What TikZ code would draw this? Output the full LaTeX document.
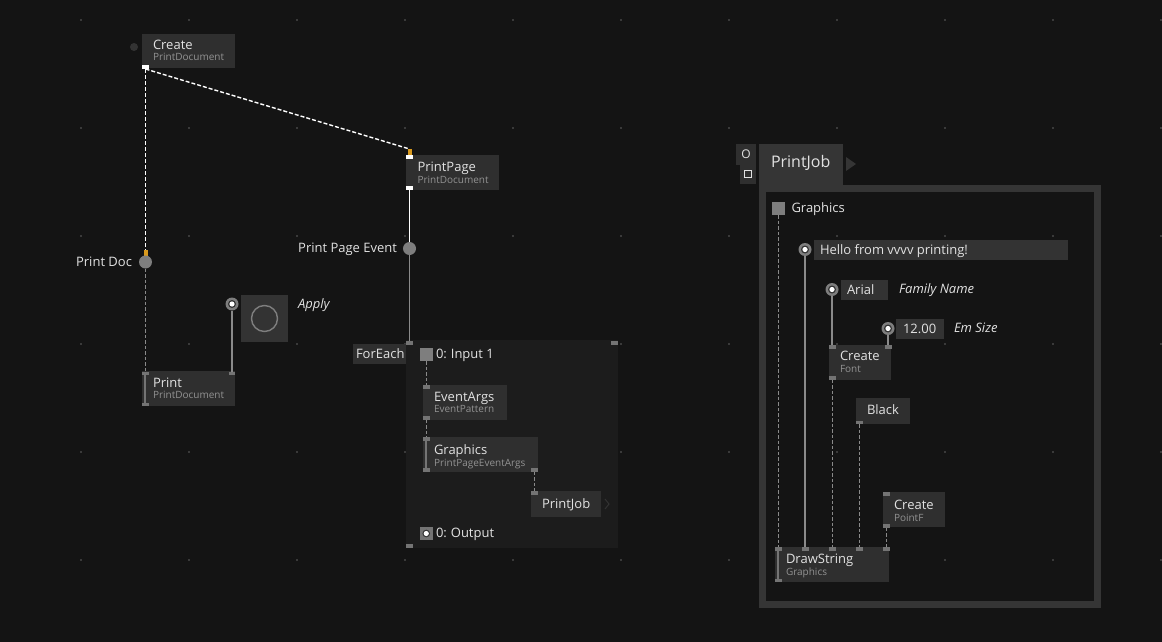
\documentclass[tikz,border=0pt]{standalone}
\usepackage{fontspec}
\setmainfont{Open Sans}
\definecolor{bg}{HTML}{141414}
\definecolor{nodefill}{HTML}{2F2F2F}
\definecolor{iofill}{HTML}{333333}
\definecolor{regfill}{HTML}{1C1C1C}
\definecolor{framec}{HTML}{353535}
\definecolor{txt}{HTML}{E2E2E2}
\definecolor{subtxt}{HTML}{929292}
\definecolor{pinc}{HTML}{7E7E7E}
\definecolor{smallpin}{HTML}{747474}
\definecolor{linec}{HTML}{8A8A8A}
\definecolor{orangec}{HTML}{D99A1E}
\definecolor{dotc}{HTML}{3A3A3A}
\begin{document}
\begin{tikzpicture}[x=1pt,y=-1pt,
  every node/.style={inner sep=0pt, outer sep=0pt},
  box/.style={fill=nodefill, anchor=north west, rectangle},
  iobox/.style={fill=iofill, anchor=north west, rectangle},
  pinw/.style={fill=white, anchor=north west, rectangle, minimum width=7pt, minimum height=4pt},
  ping/.style={fill=smallpin, anchor=north west, rectangle, minimum width=6.5pt, minimum height=3.5pt},
  pino/.style={fill=orangec, anchor=north west, rectangle, minimum width=4pt, minimum height=6pt},
  bigpin/.style={circle, fill=pinc, minimum size=13pt},
  iopin/.style={circle, fill=pinc, minimum size=13pt,
    path picture={\fill[iofill] (path picture bounding box.center) circle (4pt);
                  \fill[white] (path picture bounding box.center) circle (2.6pt);}},
  inpin/.style={fill=pinc, anchor=north west, rectangle, minimum width=12.5pt, minimum height=13pt},
  title/.style={anchor=base west, text=txt, font=\fontsize{13}{15}\selectfont},
  sub/.style={anchor=base west, text=subtxt, font=\fontsize{10}{12}\selectfont},
  lblit/.style={anchor=base west, text=txt, font=\fontsize{13}{15}\selectfont\itshape},
  wdash/.style={draw=white, line width=1.4pt, dash pattern=on 4pt off 2pt},
  wsolid/.style={draw=white, line width=1.7pt},
  gdash/.style={draw=linec, line width=1.2pt, dash pattern=on 3.5pt off 2pt},
  gsolid/.style={draw=linec, line width=1.5pt},
  nodebar/.style={draw=smallpin, line width=2pt}
]
% background and bounding box
\fill[bg] (0,0) rectangle (1162,642);
\useasboundingbox (0,0) rectangle (1162,642);
% grid dots
\foreach \gx in {81,189,297,405,513,621,729,837,945,1053,1161}
  \foreach \gy in {20,128,236,344,452,560}
    \fill[dotc] (\gx-0.8,\gy-0.8) rectangle (\gx+0.8,\gy+0.8);

% ---------- left part ----------
\node[circle, fill=iofill, minimum size=8pt] (createDot) at (134,47) {};
\node[box, minimum width=93pt, minimum height=34.5pt] (create) at (142,34) {};
\node[title] (createT) at (153,50) {Create};
\node[sub] (createS) at (153,61) {PrintDocument};
\node[pinw] (createOut) at (142,65) {};

\node[pino] (pdIn) at (143.5,250) {};
\node[bigpin] (pd) at (145.5,262) {};
\node[title, anchor=base east] (pdT) at (132,266) {Print Doc};

\node[box, minimum width=93pt, minimum height=35pt] (print) at (142,371) {};
\node[ping] (printIn1) at (142,371.5) {};
\node[ping] (printIn2) at (228.5,371.5) {};
\node[ping] (printOut) at (142,402.5) {};
\draw[nodebar] (printIn1.south) -- (printOut.north);
\node[title] (printT) at (153,387) {Print};
\node[sub] (printS) at (153,398) {PrintDocument};

\node[iopin] (applyPin) at (232,304) {};
\node[iobox, minimum width=47pt, minimum height=47pt] (applyBox) at (241,295) {};
\draw[draw=pinc, line width=1.4pt] (applyBox.center) circle (13pt);
\node[lblit] (applyT) at (298,308) {Apply};

\node[box, minimum width=93pt, minimum height=35pt] (pp) at (406,155) {};
\node[pinw] (ppIn) at (406,155) {};
\node[pino] (ppOrange) at (407.5,149) {};
\node[pinw] (ppOut) at (406,186) {};
\node[title] (ppT) at (417.5,171.5) {PrintPage};
\node[sub] (ppS) at (417.5,183) {PrintDocument};

\node[bigpin] (ppe) at (409.5,248.5) {};
\node[title, anchor=base east] (ppeT) at (397,252) {Print Page Event};

% connectors left
\draw[wdash] (createOut.south) -- (pdIn.north);
\draw[wdash] (createOut.south) -- (ppOrange.north);
\draw[gdash] (pd.south) -- (pd.south |- printIn1.north);
\draw[gsolid] (applyPin.south) -- (applyPin.south |- printIn2.north);
\draw[wsolid] (ppOut.south) -- (ppOut.south |- ppe.north);

% ---------- ForEach region ----------
\node[fill=regfill, anchor=north west, minimum width=212pt, minimum height=208pt] (fe) at (406,340) {};
\node[ping] (feIn) at (406,341) {};
\node[ping] (feTR) at (611,341) {};
\node[ping] (feOut) at (406,544) {};
\draw[gsolid] (ppe.south) -- (ppe.south |- feIn.north);
\node[box, minimum width=53pt, minimum height=20pt] (feLbl) at (353,344) {};
\node[title] (feT) at (356,358) {ForEach};

\node[inpin] (in1) at (420,348) {};
\node[title] (in1T) at (436,358) {0:\hspace{4pt}Input 1};

\node[box, minimum width=84pt, minimum height=35pt] (ea) at (423,385) {};
\node[ping] (eaIn) at (423,385) {};
\node[ping] (eaOut) at (423,416) {};
\node[title] (eaT) at (434,401) {EventArgs};
\node[sub] (eaS) at (434,412.5) {EventPattern};

\node[box, minimum width=115pt, minimum height=35pt] (gr) at (423,437) {};
\node[ping] (grIn) at (423,437) {};
\node[ping] (grOut) at (423,468) {};
\node[ping] (grOut2) at (531,468) {};
\draw[nodebar] (grIn.south) -- (grOut.north);
\node[title] (grT) at (434,454) {Graphics};
\node[sub] (grS) at (434,466) {PrintPageEventArgs};

\node[box, minimum width=70pt, minimum height=26pt] (pj) at (531,491) {};
\node[ping] (pjIn) at (531,491) {};
\node[title] (pjT) at (542,508) {PrintJob};
\draw[draw=iofill, line width=1pt] (605,499) -- (609,504) -- (605,509);

\node[inpin, fill=smallpin, path picture={\fill[iofill] (path picture bounding box.center) circle (3.8pt);
   \fill[white] (path picture bounding box.center) circle (2.6pt);}] (outSq) at (420,527) {};
\node[title] (outT) at (436,537.5) {0:\hspace{4pt}Output};

\draw[gdash] (in1.south) -- (in1.south |- eaIn.north);
\draw[gdash] (eaOut.south) -- (eaOut.south |- grIn.north);
\draw[gdash] (grOut2.south) -- (grOut2.south |- pjIn.north);

% ---------- PrintJob region ----------
\node[fill=nodefill, anchor=north west, minimum width=20pt, minimum height=21pt, text=txt,
      font=\fontsize{12}{14}\selectfont] (btnO) at (736,144) {O};
\node[fill=nodefill, anchor=north west, minimum width=16pt, minimum height=20pt] (btnSq) at (740,164) {};
\node[draw=txt, line width=1pt, minimum size=7pt] (btnSqIcon) at (btnSq.center) {};
\node[fill=framec, anchor=north west, minimum width=84pt, minimum height=45pt] (tab) at (759,144) {};
\node[anchor=base west, text=txt, font=\fontsize{16}{18}\selectfont] (tabT) at (771,167.5) {PrintJob};
\fill[framec] (846,157) -- (856,164) -- (846,171) -- cycle;
\node[draw=framec, line width=7pt, anchor=north west, minimum width=335pt, minimum height=416pt] (pjFrame) at (762.5,188.5) {};

\node[inpin] (pjG) at (772,202) {};
\node[title] (pjGT) at (791.5,212) {Graphics};

\node[iopin] (helloPin) at (805,249.5) {};
\node[iobox, minimum width=254pt, minimum height=20pt] (hello) at (814,240) {};
\node[title] (helloT) at (820,254) {Hello from vvvv printing!};

\node[iopin] (arialPin) at (832,289.5) {};
\node[iobox, minimum width=47pt, minimum height=20pt] (arial) at (841,280) {};
\node[title] (arialT) at (847,294) {Arial};
\node[lblit] (famT) at (899,293) {Family Name};

\node[iopin] (emPin) at (888,328.5) {};
\node[iobox, minimum width=48pt, minimum height=20pt] (em) at (896,319) {};
\node[title] (emT) at (903,333.5) {12.00};
\node[lblit] (emL) at (954,332.5) {Em Size};

\node[box, minimum width=62pt, minimum height=35pt] (cf) at (829,345) {};
\node[ping] (cfIn1) at (829,345) {};
\node[ping] (cfIn2) at (885,345) {};
\node[ping] (cfOut) at (829,376) {};
\node[title] (cfT) at (840,360) {Create};
\node[sub] (cfS) at (840,372.5) {Font};

\node[box, minimum width=54pt, minimum height=26pt] (blk) at (856,398) {};
\node[ping] (blkOut) at (856,420.5) {};
\node[title] (blkT) at (867,414) {Black};

\node[box, minimum width=62pt, minimum height=35pt] (cp) at (883,492) {};
\node[ping] (cpIn) at (883,492) {};
\node[ping] (cpOut) at (883,524) {};
\node[title] (cpT) at (894,509) {Create};
\node[sub] (cpS) at (894,521) {PointF};

\node[box, minimum width=114pt, minimum height=35pt] (ds) at (775,547) {};
\node[ping] (ds1) at (775,547) {};
\node[ping] (ds2) at (802,547) {};
\node[ping] (ds3) at (829,547) {};
\node[ping] (ds4) at (856,547) {};
\node[ping] (ds5) at (883,547) {};
\node[ping] (dsOut) at (775,578.5) {};
\draw[nodebar] (ds1.south) -- (dsOut.north);
\node[title] (dsT) at (786,563) {DrawString};
\node[sub] (dsS) at (786,575) {Graphics};

\draw[gdash] (pjG.south) -- (pjG.south |- ds1.north);
\draw[gsolid] (helloPin.south) -- (helloPin.south |- ds2.north);
\draw[gsolid] (arialPin.south) -- (arialPin.south |- cfIn1.north);
\draw[gsolid] (emPin.south) -- (emPin.south |- cfIn2.north);
\draw[gdash] (cfOut.south) -- (cfOut.south |- ds3.north);
\draw[gdash] (blkOut.south) -- (blkOut.south |- ds4.north);
\draw[gdash] (cpOut.south) -- (cpOut.south |- ds5.north);
\end{tikzpicture}
\end{document}
